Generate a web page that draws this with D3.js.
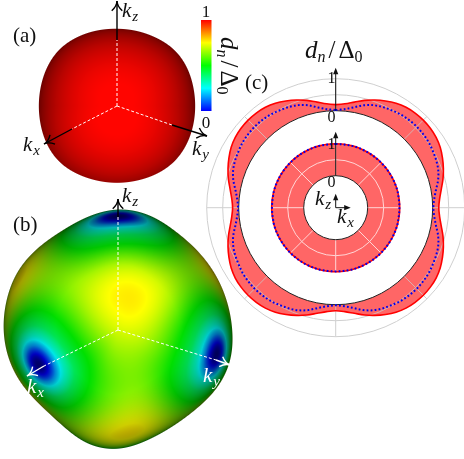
<!DOCTYPE html>
<html><head><meta charset="utf-8">
<script src="https://cdn.jsdelivr.net/npm/d3@7/dist/d3.min.js"></script>
<style>
html,body{margin:0;padding:0;background:#fff;overflow:hidden}
#wrap{position:relative;width:464px;height:459px}
canvas,svg{position:absolute;left:0;top:0}
text{font-family:"Liberation Serif",serif;fill:#111}
</style></head><body><div id="wrap"><canvas id="cv" width="464" height="459"></canvas><svg id="sv" width="464" height="459"></svg></div>
<script>
// ---- data ----
const colorbarTicks = [0, 1];
const jetStops = [0, 0.25, 0.5, 0.75, 1];
const jetColors = ["#0000ff", "#00ffff", "#00ff00", "#ffff00", "#ff0000"];
const surfaceStops = [0, 0.07, 0.25, 0.5, 0.75, 1];
const surfaceColors = ["#00007a", "#0000e0", "#00f0f0", "#00e000", "#ffff00", "#ff0000"];

// silhouette radii (px), every 15 degrees clockwise from the top
const silhouetteA = [77,77.5,78.5,80.5,80,78.5,78,78.5,79.5,80,78.5,77,76.7,77,78.5,80.5,80,78.5,78,78.5,80,81,79.5,78];
const silhouetteB = [121.5,119.5,113.5,111.9,111.9,112.4,114,116.8,115,110.5,110,113.5,120,118.5,109.5,107,110.3,113,114.4,115.2,116.4,114.5,113,117];

// gap on surface (b) against the cubic invariant x^4+y^4+z^4 of the direction
const cubicK = [0.333,0.4,0.5,0.56,0.625,0.706,0.79,0.875,0.94,0.98,1];
const cubicGap = [0.77,0.71,0.62,0.57,0.52,0.47,0.41,0.30,0.18,0.07,0];
const gapA = 0.995;

// polar curves (c): one eighth of the circle, angle measured from the axis
const polarAngle = [0,5,10,15,20,25,30,35,40,45];
const outerRed = [0.19,0.23,0.32,0.44,0.55,0.65,0.74,0.80,0.83,0.84];
const outerBlue = [0.02,0.06,0.15,0.28,0.38,0.44,0.48,0.52,0.54,0.55];
const innerRed = [1,1,1,1,1,1,1,1,1,1];
const innerBlue = [0.99,0.99,0.99,1,1,1,1,1,1,1];
const gridAngles = [0,45,90,135,180,225,270,315];

// ---- surfaces on canvas ----
const ctx = document.getElementById("cv").getContext("2d");
const img = ctx.createImageData(464, 459);
const surfaceColor = d3.scaleLinear().domain(surfaceStops).range(surfaceColors).clamp(true);
const kScale = d3.scaleLinear().domain(cubicK).range(cubicGap).clamp(true);
// where the +x, +y, +z directions sit in the view (right, down, towards viewer)
const axisX = [-0.71,0.31,0.63], axisY = [0.85,0.21,0.49], axisZ = [0,-0.93,0.33];
function invert(c0,c1,c2){
  const [a,d,g]=c0,[b,e,h]=c1,[c,f,i]=c2;
  const A=e*i-f*h,B=c*h-b*i,C=b*f-c*e,D=f*g-d*i,E=a*i-c*g,F=c*d-a*f,G=d*h-e*g,H=b*g-a*h,I=a*e-b*d;
  const det=a*A+b*D+c*G;
  return [[A/det,B/det,C/det],[D/det,E/det,F/det],[G/det,H/det,I/det]];
}
const viewToWorld=invert(axisX,axisY,axisZ);
const dot = (a,b)=>a[0]*b[0]+a[1]*b[1]+a[2]*b[2];

function gapB(n){
  const x=dot(viewToWorld[0],n),y=dot(viewToWorld[1],n),z=dot(viewToWorld[2],n);
  const l=x*x+y*y+z*z;
  return kScale((x*x*x*x+y*y*y*y+z*z*z*z)/(l*l));
}
function paint(cx,cy,radii,gap,shade){
  const R=d3.interpolateBasisClosed(radii);
  const max=d3.max(radii)+3;
  for(let py=Math.max(0,Math.floor(cy-max));py<Math.min(459,cy+max);py++){
    for(let px=Math.max(0,Math.floor(cx-max));px<Math.min(464,cx+max);px++){
      const dx=px+.5-cx,dy=py+.5-cy,r=Math.hypot(dx,dy);
      let th=Math.atan2(dx,-dy)/(2*Math.PI); if(th<0)th+=1;
      const rad=R(th);
      const a=Math.max(0,Math.min(1,rad-r+.5));
      if(a<=0)continue;
      const rho=Math.min(.9999,r/rad);
      const nz=Math.sqrt(1-rho*rho);
      const n=[r?dx/r*rho:0,r?dy/r*rho:0,nz];
      const c=d3.rgb(surfaceColor(gap(n)));
      const b=shade(n);
      const i=(py*464+px)*4;
      img.data[i]=c.r*b*a+255*(1-a);
      img.data[i+1]=c.g*b*a+255*(1-a);
      img.data[i+2]=c.b*b*a+255*(1-a);
      img.data[i+3]=255;
    }
  }
}
paint(117,106,silhouetteA,()=>gapA,n=>{
  const l=Math.max(0,(n[2]-0.08*n[1])/1.003);
  return Math.min(1,0.40+0.62*Math.pow(l,1.5)+0.20*Math.max(0,n[1]));
});
paint(118,330,silhouetteB,gapB,n=>{
  return Math.min(1,0.30+0.82*Math.pow(n[2],0.9));
});
ctx.putImageData(img,0,0);

// ---- SVG overlay ----
const svg = d3.select("#sv");
const defs = svg.append("defs");

// colour bar
const barScale = d3.scaleLinear().domain([0,1]).range([111,20]);
const grad = defs.append("linearGradient").attr("id","jet").attr("x1",0).attr("x2",0).attr("y1",1).attr("y2",0);
grad.selectAll("stop").data(jetStops).join("stop")
  .attr("offset",d=>d).attr("stop-color",(d,i)=>jetColors[i]);
svg.append("rect").attr("x",201).attr("y",barScale(1)).attr("width",10.5)
  .attr("height",barScale(0)-barScale(1)).attr("fill","url(#jet)");
svg.selectAll(".cbt").data(colorbarTicks).join("text").attr("class","cbt")
  .attr("x",206).attr("y",d=>d?17:128).attr("text-anchor","middle").attr("font-size",17).text(d=>d);

// text helpers
function kLabel(x,y,sub,fill){
  const t=svg.append("text").attr("x",x).attr("y",y).attr("font-size",21).style("fill",fill||"#111");
  t.append("tspan").attr("font-style","italic").text("k");
  t.append("tspan").attr("font-style","italic").attr("font-size",15).attr("dx",1).attr("dy",4).text(sub);
}
function gapTitle(sel){
  sel.append("tspan").attr("font-style","italic").text("d");
  sel.append("tspan").attr("font-style","italic").attr("font-size",16).attr("dy",4).text("n");
  sel.append("tspan").attr("dy",-4).attr("dx",3).text("/");
  sel.append("tspan").attr("dx",3).text("Δ");
  sel.append("tspan").attr("font-size",16).attr("dy",4).text("0");
}
gapTitle(svg.append("text").attr("font-size",25).attr("transform","translate(221,37) rotate(90)"));
gapTitle(svg.append("text").attr("font-size",25).attr("x",305).attr("y",58));

[["(a)",13,42],["(b)",13,231],["(c)",245,89]].forEach(d=>{
  svg.append("text").attr("x",d[1]).attr("y",d[2]).attr("font-size",21).text(d[0]);
});

// axis arrows
const line3 = (x1,y1,x2,y2,col,w,dash)=>svg.append("line").attr("x1",x1).attr("y1",y1).attr("x2",x2).attr("y2",y2)
  .attr("stroke",col).attr("stroke-width",w).attr("stroke-dasharray",dash||null);
function openHead(x1,y1,x2,y2,col){
  const a=Math.atan2(y2-y1,x2-x1),L=11,s=0.5;
  const c=(x2-Math.cos(a)*L*0.45),e=(y2-Math.sin(a)*L*0.45);
  svg.append("path").attr("fill","none").attr("stroke",col).attr("stroke-width",1.4)
   .attr("d",`M${x2-L*Math.cos(a-s)},${y2-L*Math.sin(a-s)}Q${c},${e} ${x2},${y2}Q${c},${e} ${x2-L*Math.cos(a+s)},${y2-L*Math.sin(a+s)}`);
}
const axesA=[[117,40,117,1],[72,129,44,144],[172,125,207,136]];
axesA.forEach(d=>{
  line3(117,106,d[0],d[1],"#fff",1,"3 2");
  line3(d[0],d[1],d[2],d[3],"#000",1.4);
  openHead(d[0],d[1],d[2],d[3],"#000");
});
const axesB=[[118,217,118,199,"#000"],[44,366,27,376,"#fff"],[216,360,230,365,"#fff"]];
axesB.forEach(d=>{
  line3(118,330,d[0],d[1],"#fff",1,"3 2");
  line3(d[0],d[1],d[2],d[3],d[4],1.4);
  openHead(d[0],d[1],d[2],d[3],d[4]);
});
kLabel(122,17,"z");kLabel(23,151,"x");kLabel(192,155,"y");
kLabel(122,202,"z");kLabel(27,393,"x","#fff");kLabel(203,382,"y","#fff");

// polar plot
const cx=335.7, cy=207.7;
const g=svg.append("g").attr("transform",`translate(${cx},${cy})`);
const outerR=d3.scaleLinear().domain([0,1]).range([97,129]);
const innerR=d3.scaleLinear().domain([0,1]).range([32,64]);
const rad=d=>d*Math.PI/180;
function fullCircle(vals){
  const eighth=polarAngle.map((a,i)=>[a,vals[i]]);
  const quarter=eighth.concat(eighth.slice(0,-1).reverse().map(d=>[90-d[0],d[1]]));
  const all=[];
  [0,90,180,270].forEach(o=>quarter.slice(0,-1).forEach(d=>all.push([o+d[0],d[1]])));
  all.push([360,vals[0]]);
  return all;
}
function gridRing(scale,domainCircles,col,w){
  g.selectAll(null).data(domainCircles).join("circle").attr("r",d=>scale(d))
    .attr("fill","none").attr("stroke",col).attr("stroke-width",w);
  g.selectAll(null).data(gridAngles).join("line")
    .attr("x1",d=>scale(0)*Math.sin(rad(d))).attr("y1",d=>-scale(0)*Math.cos(rad(d)))
    .attr("x2",d=>scale(1)*Math.sin(rad(d))).attr("y2",d=>-scale(1)*Math.cos(rad(d)))
    .attr("stroke",col).attr("stroke-width",w);
}
gridRing(outerR,[0.5,1],"#cfcfcf",1);
function ring(scale,redVals,blueVals,gridCol,gridCircles){
  const red=fullCircle(redVals), blue=fullCircle(blueVals);
  const area=d3.areaRadial().angle(d=>rad(d[0])).innerRadius(scale(0)).outerRadius(d=>scale(d[1])).curve(d3.curveCatmullRom);
  const clipId="c"+scale(0);
  defs.append("clipPath").attr("id",clipId).append("path").attr("d",area(red));
  g.append("path").attr("d",area(red)).attr("fill","#ff6666");
  const over=g.append("g").attr("clip-path",`url(#${clipId})`);
  over.selectAll("circle").data(gridCircles).join("circle").attr("r",d=>scale(d))
    .attr("fill","none").attr("stroke",gridCol).attr("stroke-width",1);
  over.selectAll("line").data(gridAngles).join("line")
    .attr("x1",d=>scale(0)*Math.sin(rad(d))).attr("y1",d=>-scale(0)*Math.cos(rad(d)))
    .attr("x2",d=>scale(1)*Math.sin(rad(d))).attr("y2",d=>-scale(1)*Math.cos(rad(d)))
    .attr("stroke",gridCol).attr("stroke-width",1);
  const ln=d3.lineRadial().angle(d=>rad(d[0])).radius(d=>scale(d[1])).curve(d3.curveCatmullRom);
  g.append("circle").attr("r",scale(0)).attr("fill","none").attr("stroke","#222").attr("stroke-width",1);
  g.append("path").attr("d",ln(red)).attr("fill","none").attr("stroke","#f00").attr("stroke-width",1.6);
  g.append("path").attr("d",ln(blue)).attr("fill","none").attr("stroke","#0000ee").attr("stroke-width",2).attr("stroke-dasharray","1.8 2.2");
}
ring(outerR,outerRed,outerBlue,"#d9b0b0",[0.5]);
ring(innerR,innerRed,innerBlue,"#ffd6d6",[0.5]);

// radial value axes
function vArrow(x,y1,y2){
  line3(x,y1,x,y2+3,"#111",1);
  svg.append("path").attr("d",`M${x},${y2}l-2.6,6.5h5.2z`).attr("fill","#111");
}
vArrow(cx,cy-outerR(0),cy-outerR(1)-11);
vArrow(cx,cy-innerR(0),cy-innerR(1)-12);
vArrow(cx,cy,cy-14);
svg.append("line").attr("x1",cx).attr("y1",cy).attr("x2",cx+12).attr("y2",cy).attr("stroke","#111");
svg.append("path").attr("d",`M${cx+15},${cy}l-6.5,-2.6v5.2z`).attr("fill","#111");
[[1,cy-outerR(1)+4.5],[0,cy-outerR(0)+11],[1,cy-innerR(1)+5.5],[0,cy-innerR(0)+11]].forEach(d=>{
  svg.append("text").attr("x",331.5).attr("y",d[1]).attr("text-anchor","middle").attr("font-size",16).text(d[0]);
});
kLabel(315,205,"z");kLabel(337,223,"x");
</script></body></html>
